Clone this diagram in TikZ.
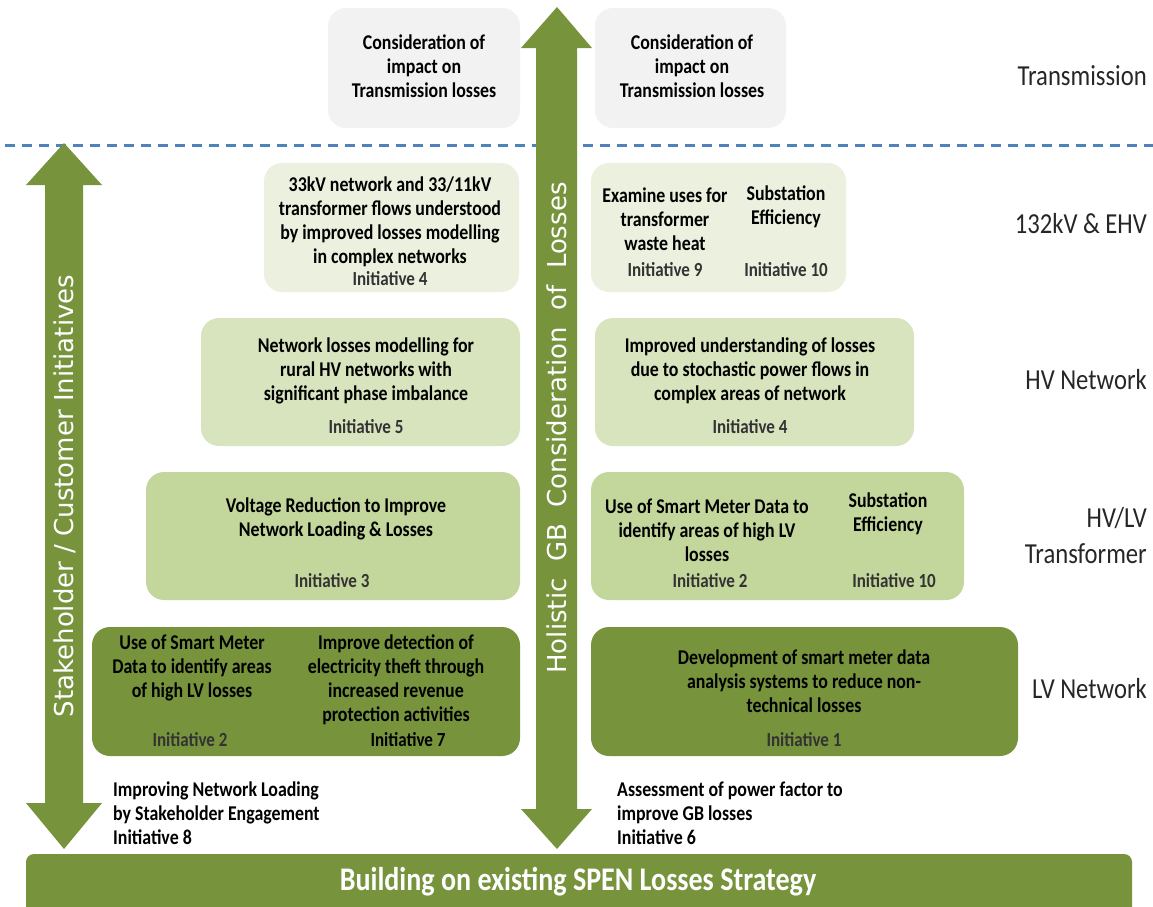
\documentclass[tikz,border=0pt]{standalone}
\usepackage{fontspec}
\setmainfont[FakeStretch=0.85]{Carlito}
\newfontfamily\arrowfont{DejaVu Sans}
\definecolor{spengreen}{HTML}{77933C}
\definecolor{ehvfill}{HTML}{EBF1DE}
\definecolor{hvfill}{HTML}{D7E4BD}
\definecolor{tffill}{HTML}{C3D69B}
\definecolor{grayfill}{HTML}{F2F2F2}
\definecolor{dashblue}{HTML}{4F81BD}
\tikzset{
  box/.style={rounded corners=18pt, inner sep=0pt},
  txt/.style={font=\bfseries\fontsize{21}{24}\selectfont, align=center, text=black},
  ini/.style={font=\bfseries\fontsize{20}{22}\selectfont, text=black!80},
  lvl/.style={font=\fontsize{29}{36}\selectfont, anchor=east, align=right, inner sep=0pt, text=black!85},
  vlabel/.style={font=\arrowfont\fontsize{26}{30}\selectfont, text=white, rotate=90},
}
\begin{document}
\begin{tikzpicture}[x=1pt,y=-1pt] % SPEN losses strategy by network level
  \useasboundingbox (0,0) rectangle (1153,906);
  \foreach \nm/\x/\y/\w/\h/\col in {gtA/424/68/192/120/grayfill, gtB/690.5/68/191/120/grayfill,
      ehvA/391.5/227.5/255/129/ehvfill, ehvB/718.5/227.5/255/129/ehvfill,
      hvA/360.5/382/319/128/hvfill, hvB/754.5/382/319/128/hvfill,
      tfA/333/536/374/128/tffill, tfB/777.5/536/373/128/tffill,
      lvA/306/691.5/428/129/spengreen, lvB/804.5/691.5/427/129/spengreen} {
    \node[box, fill=\col, minimum width=\w pt, minimum height=\h pt] (\nm) at (\x,\y) {};
  };
  \draw[dashblue, line width=3pt, dash pattern=on 10pt off 7pt] (5,145) -- (1153,145);
  % arrows
  \fill[spengreen] (557,7) -- (592,48) -- (577,48) -- (577,809) -- (592,809) -- (557,849)
    -- (521,809) -- (536,809) -- (536,48) -- (521,48) -- cycle;
  \fill[spengreen] (64,143) -- (102,185) -- (83,185) -- (83,803) -- (102,803) -- (64,849)
    -- (26,803) -- (45,803) -- (45,185) -- (26,185) -- cycle;
  \node[vlabel] (holistic) at (557,428) {Holistic\ \ GB\ \ Consideration\ \ of\ \ Losses};
  \node[vlabel] (stake) at (65,496) {Stakeholder / Customer Initiatives};
  \node[box, rounded corners=8pt, fill=spengreen, minimum width=1106pt, minimum height=66pt] (base) at (579,887) {};
  \node[font=\bfseries\fontsize{33}{36}\selectfont, text=white] (basetxt) at (578,882) {Building on existing SPEN Losses Strategy};
  % level labels
  \node[lvl] (lvtrans) at (1147,76) {Transmission};
  \node[lvl] (lvehv) at (1147,224) {132kV \& EHV};
  \node[lvl] (lvhv) at (1147,380) {HV Network};
  \node[lvl] (lvtf) at (1147,536) {HV/LV\\Transformer};
  \node[lvl] (lvlv) at (1147,689) {LV Network};
  % box texts
  \node[txt] (gtAtxt) at (424,66) {Consideration of\\impact on\\Transmission losses};
  \node[txt] (gtBtxt) at (692,66) {Consideration of\\impact on\\Transmission losses};
  \node[txt] (ehvAtxt) at (390,222) {33kV network and 33/11kV\\transformer flows\ understood\\by improved losses modelling\\in complex networks};
  \node[ini] (ehvAini) at (390,279) {Initiative 4};
  \node[txt] (ehvBtxt) at (665,219) {Examine uses for\\transformer\\waste heat};
  \node[ini] (ehvBini) at (665,270) {Initiative 9};
  \node[txt] (ehvCtxt) at (786,207) {Substation\\Efficiency};
  \node[ini] (ehvCini) at (786,270) {Initiative 10};
  \node[txt] (hvAtxt) at (366,371) {Network losses modelling for\\rural HV networks with\\significant phase imbalance};
  \node[ini] (hvAini) at (366,427) {Initiative 5};
  \node[txt] (hvBtxt) at (750,371) {Improved understanding of losses\\due to stochastic power flows in\\complex areas of network};
  \node[ini] (hvBini) at (750,427) {Initiative 4};
  \node[txt] (tfAtxt) at (336,518.5) {Voltage Reduction to Improve\\Network Loading \& Losses};
  \node[ini] (tfAini) at (332,581) {Initiative 3};
  \node[txt] (tfBtxt) at (707,530) {Use of Smart Meter Data to\\identify areas of high LV\\losses};
  \node[ini] (tfBini) at (710,581) {Initiative 2};
  \node[txt] (tfCtxt) at (888,513.5) {Substation\\Efficiency};
  \node[ini] (tfCini) at (894,581) {Initiative 10};
  \node[txt] (lvAtxt) at (192,668) {Use of Smart Meter\\Data to identify areas\\of high LV\ losses};
  \node[ini] (lvAini) at (190,740) {Initiative 2};
  \node[txt] (lvCtxt) at (396,680) {Improve detection of\\electricity theft through\\increased revenue\\protection activities};
  \node[ini, text=black] (lvCini) at (408,740) {Initiative 7};
  \node[txt] (lvBtxt) at (804,681) {Development of smart meter data\\analysis systems to reduce non-\\technical losses};
  \node[ini] (lvBini) at (804,740) {Initiative 1};
  % notes above the base
  \node[txt, align=left, anchor=west, inner sep=0pt] (noteA) at (113,813) {Improving Network Loading\\by Stakeholder Engagement\\Initiative 8};
  \node[txt, align=left, anchor=west, inner sep=0pt] (noteB) at (617,813) {Assessment of power factor to\\improve GB losses\\Initiative 6};
\end{tikzpicture}
\end{document}
